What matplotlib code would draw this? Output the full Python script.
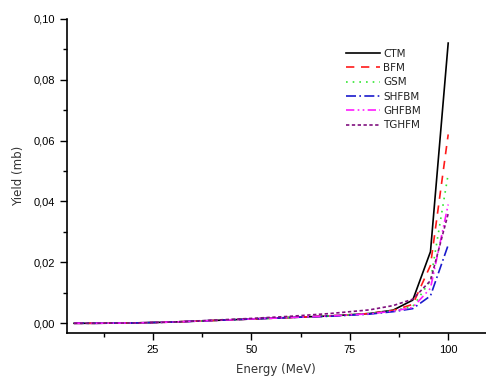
import matplotlib
matplotlib.use("Agg")
import matplotlib.pyplot as plt
from matplotlib.ticker import MultipleLocator, FuncFormatter

energy = [5, 10, 20, 30, 40, 50, 60, 70, 80, 86, 91, 95.5, 100]
ctm    = [0.0, 0.0, 0.0001, 0.0004, 0.0009, 0.0014, 0.0019, 0.0024, 0.0032, 0.0043, 0.0076, 0.0235, 0.092]
bfm    = [0.0, 0.0, 0.0001, 0.0004, 0.0009, 0.0014, 0.0019, 0.0024, 0.0032, 0.0042, 0.0062, 0.0190, 0.062]
gsm    = [0.0, 0.0, 0.0001, 0.0004, 0.0009, 0.0014, 0.0019, 0.0024, 0.0032, 0.0041, 0.0055, 0.0140, 0.049]
shfbm  = [0.0, 0.0, 0.0001, 0.0004, 0.0009, 0.0014, 0.0019, 0.0023, 0.0030, 0.0038, 0.0048, 0.0090, 0.0257]
ghfbm  = [0.0, 0.0, 0.0001, 0.0004, 0.0009, 0.0014, 0.0019, 0.0024, 0.0031, 0.0040, 0.0052, 0.0115, 0.039]
tghfm  = [0.0, 0.0, 0.0001, 0.0004, 0.0010, 0.0016, 0.0023, 0.0032, 0.0044, 0.0058, 0.0079, 0.0140, 0.036]

names = ["CTM", "BFM", "GSM", "SHFBM", "GHFBM", "TGHFM"]
series = [ctm, bfm, gsm, shfbm, ghfbm, tghfm]
colors = ["black", "#ff1a1a", "#33e633", "#1a1acc", "#ff1aff", "#80107f"]
styles = ["-", (0, (5, 4)), (0, (1, 3)), (0, (6, 2, 1, 2)), (0, (5, 2, 1, 2, 1, 2)), (0, (2, 1.5))]

fig = plt.figure(figsize=(4.86, 3.78), dpi=100)
ax = fig.add_axes([0.137, 0.119, 0.863, 0.8315])

for name, ys, c, ls in zip(names, series, colors, styles):
    ax.plot(energy, ys, color=c, linestyle=ls, linewidth=1.2, label=name)

ax.set_xlim(3.1, 109.6)
ax.set_ylim(-0.0032, 0.10)
ax.xaxis.set_major_locator(MultipleLocator(25))
ax.xaxis.set_minor_locator(MultipleLocator(12.5))
ax.yaxis.set_major_locator(MultipleLocator(0.02))
ax.yaxis.set_minor_locator(MultipleLocator(0.01))
ax.yaxis.set_major_formatter(FuncFormatter(lambda v, p: f"{v:.2f}".replace(".", ",")))
ax.xaxis.set_major_formatter(FuncFormatter(lambda v, p: f"{v:.0f}" if v >= 25 else ""))

for s in ["top", "right"]:
    ax.spines[s].set_visible(False)
for s in ["left", "bottom"]:
    ax.spines[s].set_linewidth(1.2)
ax.tick_params(which="major", length=5, width=1.0, direction="out", labelsize=8)
ax.tick_params(which="minor", length=3, width=1.0, direction="out")
for lab in ax.get_xticklabels() + ax.get_yticklabels():
    lab.set_fontfamily("Liberation Sans")

ax.set_xlabel("Energy (MeV)", fontsize=8.5, family="DejaVu Sans", color="#333333", labelpad=6)
ax.set_ylabel("Yield (mb)", fontsize=8.5, family="DejaVu Sans", color="#333333", labelpad=6)

leg = ax.legend(loc="upper left", bbox_to_anchor=(0.645, 0.935), frameon=False,
                handlelength=3.2, handletextpad=0.3, labelspacing=0.42,
                prop={"family": "DejaVu Sans", "size": 7.5})
for t in leg.get_texts():
    t.set_color("#222222")

fig.savefig("out.png", dpi=100)
